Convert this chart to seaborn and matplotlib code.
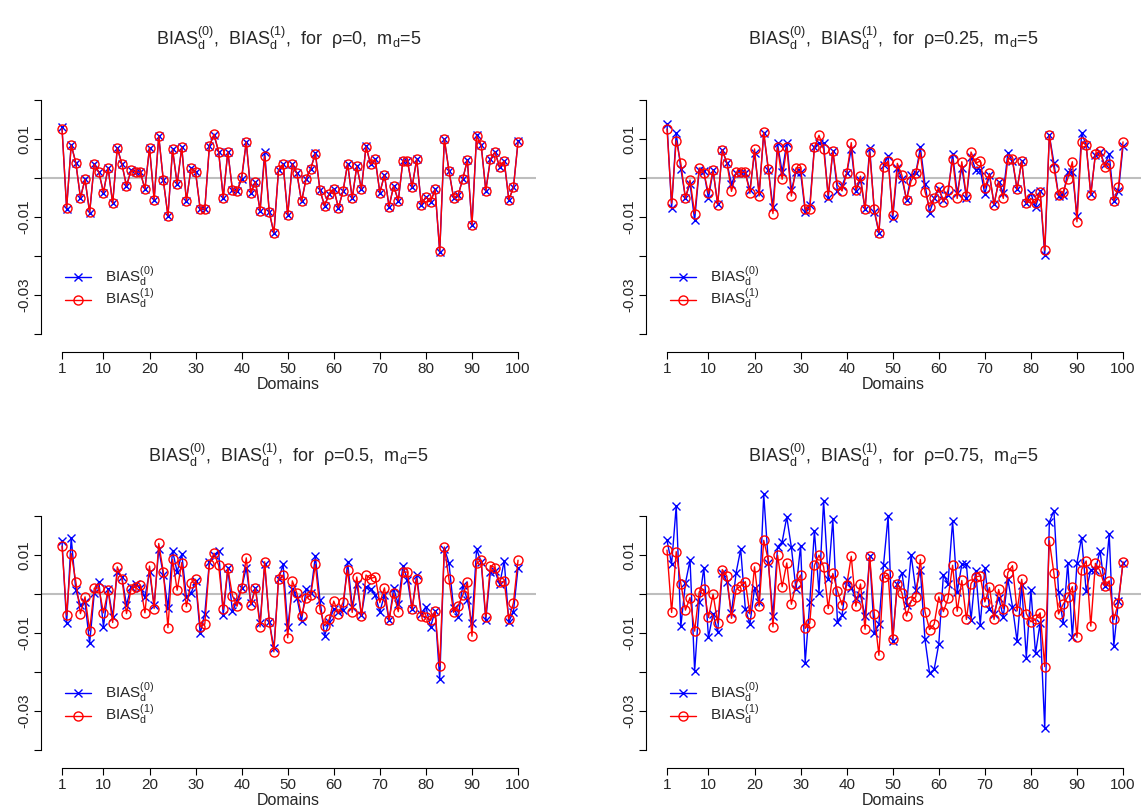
import matplotlib
matplotlib.use("Agg")
import matplotlib.pyplot as plt
import numpy as np
import seaborn as sns

domains = list(range(1, 101))

# rho = 0
bias0_rho0 = [0.0130, -0.0078, 0.0086, 0.0039, -0.0050, -0.0003, -0.0089, 0.0036, 0.0015, -0.0037,
              0.0027, -0.0065, 0.0078, 0.0036, -0.0020, 0.0020, 0.0016, 0.0015, -0.0028, 0.0078,
              -0.0055, 0.0107, -0.0006, -0.0097, 0.0074, -0.0015, 0.0080, -0.0058, 0.0025, 0.0015,
              -0.0080, -0.0080, 0.0083, 0.0110, 0.0068, -0.0050, 0.0068, -0.0031, -0.0034, -0.0002,
              0.0093, -0.0038, -0.0009, -0.0084, 0.0067, -0.0088, -0.0141, 0.0020, 0.0036, -0.0095,
              0.0037, 0.0012, -0.0060, -0.0001, 0.0024, 0.0065, -0.0031, -0.0071, -0.0040, -0.0028,
              -0.0076, -0.0034, 0.0037, -0.0052, 0.0031, -0.0028, 0.0082, 0.0035, 0.0048, -0.0037,
              0.0008, -0.0073, -0.0020, -0.0058, 0.0044, 0.0044, -0.0023, 0.0049, -0.0068, -0.0048,
              -0.0061, -0.0029, -0.0190, 0.0100, 0.0019, -0.0050, -0.0044, -0.0002, 0.0046, -0.0121,
              0.0110, 0.0085, -0.0032, 0.0048, 0.0067, 0.0028, 0.0044, -0.0056, -0.0024, 0.0094]
bias1_rho0 = [0.0127, -0.0076, 0.0085, 0.0039, -0.0050, -0.0003, -0.0088, 0.0036, 0.0015, -0.0037,
              0.0027, -0.0065, 0.0078, 0.0036, -0.0020, 0.0020, 0.0016, 0.0015, -0.0028, 0.0078,
              -0.0055, 0.0108, -0.0006, -0.0097, 0.0074, -0.0015, 0.0079, -0.0058, 0.0025, 0.0015,
              -0.0079, -0.0079, 0.0083, 0.0113, 0.0068, -0.0050, 0.0068, -0.0031, -0.0034, 0.0003,
              0.0093, -0.0038, -0.0009, -0.0084, 0.0056, -0.0088, -0.0140, 0.0020, 0.0036, -0.0095,
              0.0037, 0.0012, -0.0060, -0.0001, 0.0024, 0.0063, -0.0031, -0.0071, -0.0040, -0.0028,
              -0.0076, -0.0034, 0.0037, -0.0052, 0.0031, -0.0028, 0.0081, 0.0035, 0.0048, -0.0037,
              0.0008, -0.0073, -0.0020, -0.0058, 0.0044, 0.0044, -0.0023, 0.0049, -0.0068, -0.0048,
              -0.0061, -0.0029, -0.0188, 0.0101, 0.0019, -0.0050, -0.0044, -0.0002, 0.0046, -0.0120,
              0.0108, 0.0085, -0.0032, 0.0048, 0.0067, 0.0028, 0.0044, -0.0055, -0.0024, 0.0093]

# rho = 0.25
bias0_rho25 = [0.0140, -0.0076, 0.0115, 0.0024, -0.0050, -0.0014, -0.0108, 0.0022, 0.0017, -0.0052,
               0.0020, -0.0067, 0.0072, 0.0039, -0.0015, 0.0014, 0.0013, 0.0013, -0.0031, 0.0065,
               -0.0039, 0.0115, 0.0021, -0.0074, 0.0089, 0.0015, 0.0091, -0.0031, 0.0015, 0.0015,
               -0.0086, -0.0070, 0.0080, 0.0091, 0.0089, -0.0050, 0.0070, -0.0033, -0.0020, 0.0012,
               0.0074, -0.0032, -0.0005, -0.0080, 0.0078, -0.0086, -0.0140, 0.0033, 0.0056, -0.0103,
               0.0025, -0.0001, -0.0056, 0.0007, 0.0012, 0.0079, -0.0015, -0.0089, -0.0052, -0.0029,
               -0.0056, -0.0044, 0.0063, -0.0039, 0.0027, -0.0050, 0.0055, 0.0022, 0.0022, -0.0041,
               0.0008, -0.0067, -0.0009, -0.0038, 0.0065, 0.0044, -0.0029, 0.0044, -0.0065, -0.0039,
               -0.0075, -0.0033, -0.0197, 0.0110, 0.0039, -0.0045, -0.0044, 0.0015, 0.0015, -0.0097,
               0.0115, 0.0085, -0.0042, 0.0060, 0.0068, 0.0035, 0.0061, -0.0059, -0.0034, 0.0082]
bias1_rho25 = [0.0126, -0.0064, 0.0096, 0.0038, -0.0052, -0.0005, -0.0091, 0.0026, 0.0014, -0.0039,
               0.0020, -0.0068, 0.0073, 0.0039, -0.0034, 0.0015, 0.0015, 0.0015, -0.0039, 0.0075,
               -0.0046, 0.0118, 0.0024, -0.0091, 0.0079, -0.0003, 0.0079, -0.0046, 0.0026, 0.0027,
               -0.0079, -0.0080, 0.0079, 0.0110, 0.0074, -0.0044, 0.0070, -0.0017, -0.0033, 0.0012,
               0.0091, -0.0031, 0.0005, -0.0080, 0.0067, -0.0080, -0.0140, 0.0029, 0.0044, -0.0095,
               0.0038, 0.0007, -0.0056, -0.0007, 0.0012, 0.0065, -0.0035, -0.0074, -0.0052, -0.0024,
               -0.0061, -0.0031, 0.0048, -0.0052, 0.0042, -0.0047, 0.0067, 0.0038, 0.0044, -0.0026,
               0.0012, -0.0068, -0.0009, -0.0052, 0.0050, 0.0048, -0.0029, 0.0044, -0.0065, -0.0052,
               -0.0065, -0.0035, -0.0185, 0.0110, 0.0025, -0.0044, -0.0035, -0.0001, 0.0042, -0.0112,
               0.0093, 0.0085, -0.0044, 0.0062, 0.0070, 0.0029, 0.0036, -0.0058, -0.0023, 0.0093]

# rho = 0.5
bias0_rho50 = [0.0137, -0.0075, 0.0145, 0.0010, -0.0028, -0.0021, -0.0126, 0.0002, 0.0032, -0.0084,
               0.0013, -0.0058, 0.0057, 0.0044, -0.0028, 0.0019, 0.0025, 0.0015, -0.0007, 0.0057,
               -0.0028, 0.0115, 0.0050, -0.0035, 0.0111, 0.0057, 0.0103, -0.0007, 0.0002, 0.0033,
               -0.0101, -0.0050, 0.0083, 0.0100, 0.0111, -0.0054, 0.0066, -0.0044, -0.0018, 0.0016,
               0.0068, -0.0024, 0.0016, -0.0075, 0.0076, -0.0071, -0.0139, 0.0038, 0.0076, -0.0084,
               0.0013, -0.0009, -0.0069, 0.0013, 0.0002, 0.0097, -0.0015, -0.0107, -0.0071, -0.0037,
               -0.0047, -0.0041, 0.0083, -0.0032, 0.0027, -0.0054, 0.0019, 0.0013, -0.0003, -0.0045,
               -0.0003, -0.0067, 0.0015, -0.0026, 0.0073, 0.0036, -0.0039, 0.0049, -0.0050, -0.0032,
               -0.0084, -0.0044, -0.0219, 0.0117, 0.0080, -0.0035, -0.0058, 0.0023, -0.0015, -0.0075,
               0.0115, 0.0083, -0.0067, 0.0057, 0.0059, 0.0025, 0.0085, -0.0071, -0.0045, 0.0068]
bias1_rho50 = [0.0123, -0.0054, 0.0104, 0.0032, -0.0050, -0.0007, -0.0094, 0.0015, 0.0016, -0.0048,
               0.0010, -0.0073, 0.0070, 0.0040, -0.0050, 0.0013, 0.0019, 0.0023, -0.0048, 0.0072,
               -0.0037, 0.0130, 0.0057, -0.0086, 0.0089, 0.0010, 0.0081, -0.0032, 0.0029, 0.0038,
               -0.0084, -0.0077, 0.0077, 0.0105, 0.0074, -0.0039, 0.0066, -0.0004, -0.0031, 0.0016,
               0.0093, -0.0028, 0.0015, -0.0084, 0.0083, -0.0071, -0.0148, 0.0038, 0.0049, -0.0112,
               0.0034, 0.0002, -0.0056, -0.0009, -0.0003, 0.0076, -0.0038, -0.0081, -0.0065, -0.0018,
               -0.0050, -0.0021, 0.0062, -0.0047, 0.0044, -0.0056, 0.0049, 0.0040, 0.0044, -0.0022,
               0.0016, -0.0067, 0.0002, -0.0045, 0.0056, 0.0057, -0.0039, 0.0040, -0.0056, -0.0058,
               -0.0067, -0.0044, -0.0185, 0.0121, 0.0038, -0.0047, -0.0030, -0.0003, 0.0030, -0.0108,
               0.0079, 0.0087, -0.0058, 0.0073, 0.0068, 0.0030, 0.0033, -0.0064, -0.0022, 0.0087]

# rho = 0.75
bias0_rho75 = [0.0138, 0.0077, 0.0226, -0.0083, 0.0028, 0.0087, -0.0197, -0.0020, 0.0068, -0.0111,
               -0.0050, -0.0097, 0.0055, 0.0032, -0.0048, 0.0055, 0.0115, -0.0037, -0.0077, 0.0015,
               -0.0020, 0.0256, 0.0080, -0.0056, 0.0121, 0.0134, 0.0198, 0.0120, 0.0012, 0.0124,
               -0.0176, -0.0020, 0.0162, 0.0004, 0.0239, 0.0038, 0.0192, -0.0071, -0.0054, 0.0036,
               0.0015, -0.0009, -0.0003, -0.0056, 0.0097, -0.0101, -0.0077, 0.0074, 0.0200, -0.0120,
               0.0027, 0.0055, -0.0028, 0.0100, 0.0010, 0.0062, -0.0116, -0.0203, -0.0193, -0.0128,
               0.0049, 0.0027, 0.0187, 0.0006, 0.0076, 0.0076, -0.0067, 0.0060, -0.0078, 0.0066,
               -0.0037, -0.0050, -0.0009, -0.0058, 0.0038, -0.0032, -0.0121, 0.0023, -0.0163, 0.0010,
               -0.0152, -0.0074, -0.0344, 0.0185, 0.0214, 0.0006, -0.0074, 0.0080, -0.0111, 0.0080,
               0.0145, 0.0008, 0.0063, 0.0063, 0.0111, 0.0021, 0.0154, -0.0133, -0.0017, 0.0080]
bias1_rho75 = [0.0113, -0.0047, 0.0109, 0.0027, -0.0041, -0.0009, -0.0095, 0.0006, 0.0012, -0.0060,
               0.0000, -0.0074, 0.0063, 0.0046, -0.0062, 0.0012, 0.0021, 0.0032, -0.0051, 0.0070,
               -0.0031, 0.0138, 0.0087, -0.0084, 0.0100, 0.0019, 0.0080, -0.0026, 0.0027, 0.0049,
               -0.0088, -0.0074, 0.0074, 0.0100, 0.0070, -0.0037, 0.0053, 0.0009, -0.0028, 0.0023,
               0.0097, -0.0031, 0.0026, -0.0090, 0.0097, -0.0051, -0.0157, 0.0043, 0.0051, -0.0116,
               0.0027, 0.0003, -0.0056, -0.0017, -0.0007, 0.0089, -0.0045, -0.0091, -0.0077, -0.0007,
               -0.0045, -0.0011, 0.0074, -0.0044, 0.0035, -0.0065, 0.0027, 0.0044, 0.0047, -0.0020,
               0.0017, -0.0065, 0.0012, -0.0037, 0.0055, 0.0073, -0.0043, 0.0038, -0.0050, -0.0071,
               -0.0065, -0.0048, -0.0186, 0.0137, 0.0053, -0.0051, -0.0026, -0.0007, 0.0019, -0.0111,
               0.0063, 0.0085, -0.0082, 0.0079, 0.0060, 0.0021, 0.0034, -0.0065, -0.0022, 0.0083]

rho_labels = ["0", "0.25", "0.5", "0.75"]
xticks = [1, 10, 20, 30, 40, 50, 60, 70, 80, 90, 100]
yticks = [-0.04, -0.03, -0.02, -0.01, 0.0, 0.01, 0.02]
ytick_labels = ["", "-0.03", "", "-0.01", "", "0.01", ""]

sns.set_theme(style="white")
plt.rcParams["font.family"] = ["Liberation Sans", "DejaVu Sans"]
plt.rcParams["mathtext.fontset"] = "custom"
plt.rcParams["mathtext.rm"] = "Liberation Sans"
plt.rcParams["mathtext.it"] = "Liberation Sans"
plt.rcParams["mathtext.bf"] = "Liberation Sans"

W, H = 1144, 809
fig = plt.figure(figsize=(W / 100, H / 100), dpi=100)
fs = 11

panels = [(bias0_rho0, bias1_rho0), (bias0_rho25, bias1_rho25),
          (bias0_rho50, bias1_rho50), (bias0_rho75, bias1_rho75)]
lefts = [41, 646, 41, 646]
bottoms = [352, 352, 768, 768]
ax_h = 283  # px, ylim top 0.028

for i, (b0, b1) in enumerate(panels):
    ax = fig.add_axes([lefts[i] / W, 1 - bottoms[i] / H, 495 / W, ax_h / H])
    ax.axhline(0, color="#bebebe", lw=1.5, zorder=0)
    sns.lineplot(x=domains, y=b0, ax=ax, color="blue", lw=1, marker="x",
                 markersize=5.5, mec="blue", mew=1, label=r"BIAS$_{d}^{(0)}$")
    sns.lineplot(x=domains, y=b1, ax=ax, color="red", lw=1, marker="o",
                 markersize=6.5, mec="red", mfc="none", mew=1, label=r"BIAS$_{d}^{(1)}$")
    ax.set_xlim(-3.56, 103.9)
    ax.set_ylim(-0.04462, 0.028)
    ax.set_xticks(xticks)
    ax.set_xticklabels([str(t) for t in xticks], fontsize=fs)
    ax.set_yticks(yticks)
    ax.set_yticklabels(ytick_labels, fontsize=fs, rotation=90, va="center")
    ax.tick_params(direction="out", length=5, width=0.8, color="black", pad=2,
                   bottom=True, left=True)
    for s in ["top", "right"]:
        ax.spines[s].set_visible(False)
    for s in ["left", "bottom"]:
        ax.spines[s].set_color("black")
        ax.spines[s].set_linewidth(0.8)
    ax.spines["left"].set_bounds(-0.04, 0.02)
    ax.spines["bottom"].set_bounds(1, 100)
    ax.set_xlabel("Domains", fontsize=11.5, labelpad=1)
    ax.set_ylabel("")
    # legend rows sit about 288 px / 704 px in the figure
    ax.legend(loc="center left", bbox_to_anchor=(0.048, 64 / ax_h), frameon=False,
              fontsize=fs, handlelength=1.75, handletextpad=0.9, borderpad=0,
              borderaxespad=0, labelspacing=-0.1)
    cx = (lefts[i] + 247.5) / W
    ty = 38 if i < 2 else 455
    fig.text(cx, 1 - ty / H,
             r"BIAS$_{d}^{(0)}$,  BIAS$_{d}^{(1)}$,  for  ρ=" + rho_labels[i] + r",  m$_{d}$=5",
             ha="center", va="center", fontsize=13)

fig.savefig("out.png", dpi=100)
